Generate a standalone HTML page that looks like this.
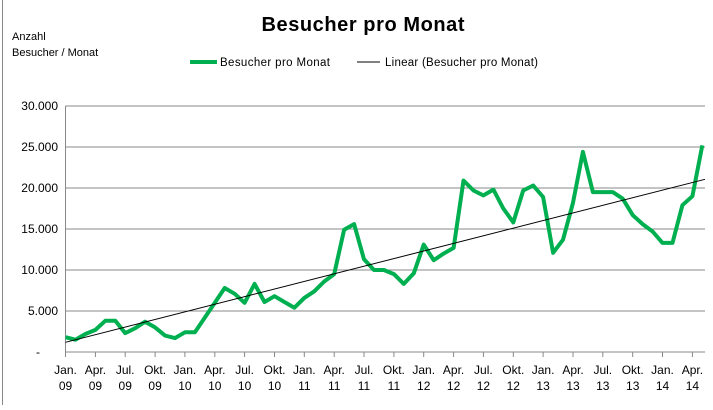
<!DOCTYPE html>
<html><head><meta charset="utf-8"><style>
body{margin:0;background:#fff}
svg text{font-family:"Liberation Sans",sans-serif;fill:#000}
</style></head><body>
<svg width="713" height="405" viewBox="0 0 713 405" xmlns="http://www.w3.org/2000/svg">
<line x1="2.5" y1="0" x2="2.5" y2="405" stroke="#888" stroke-width="1"/>
<text x="363" y="31" font-size="20" font-weight="bold" text-anchor="middle" textLength="203">Besucher pro Monat</text>
<text x="12" y="40" font-size="11">Anzahl</text>
<text x="12" y="56" font-size="11">Besucher / Monat</text>
<line x1="190" y1="62" x2="217" y2="62" stroke="#00b050" stroke-width="4"/>
<text x="220" y="66" font-size="11.5" textLength="110">Besucher pro Monat</text>
<line x1="357" y1="62" x2="380" y2="62" stroke="#000" stroke-width="1"/>
<text x="385" y="66" font-size="11.5" textLength="153">Linear (Besucher pro Monat)</text>
<g stroke="#888" stroke-width="1">
<line x1="65.5" y1="106" x2="705" y2="106"/>
<line x1="65.5" y1="147" x2="705" y2="147"/>
<line x1="65.5" y1="188" x2="705" y2="188"/>
<line x1="65.5" y1="229" x2="705" y2="229"/>
<line x1="65.5" y1="270" x2="705" y2="270"/>
<line x1="65.5" y1="311" x2="705" y2="311"/>
<line x1="65.5" y1="352" x2="705" y2="352"/>
<line x1="65.5" y1="106" x2="65.5" y2="357"/>
<line x1="95.4" y1="352" x2="95.4" y2="357"/><line x1="125.2" y1="352" x2="125.2" y2="357"/><line x1="155.1" y1="352" x2="155.1" y2="357"/><line x1="184.9" y1="352" x2="184.9" y2="357"/><line x1="214.8" y1="352" x2="214.8" y2="357"/><line x1="244.6" y1="352" x2="244.6" y2="357"/><line x1="274.5" y1="352" x2="274.5" y2="357"/><line x1="304.3" y1="352" x2="304.3" y2="357"/><line x1="334.2" y1="352" x2="334.2" y2="357"/><line x1="364" y1="352" x2="364" y2="357"/><line x1="393.9" y1="352" x2="393.9" y2="357"/><line x1="423.7" y1="352" x2="423.7" y2="357"/><line x1="453.6" y1="352" x2="453.6" y2="357"/><line x1="483.4" y1="352" x2="483.4" y2="357"/><line x1="513.3" y1="352" x2="513.3" y2="357"/><line x1="543.1" y1="352" x2="543.1" y2="357"/><line x1="573" y1="352" x2="573" y2="357"/><line x1="602.8" y1="352" x2="602.8" y2="357"/><line x1="632.7" y1="352" x2="632.7" y2="357"/><line x1="662.5" y1="352" x2="662.5" y2="357"/><line x1="692.4" y1="352" x2="692.4" y2="357"/>
</g>
<g font-size="12" text-anchor="end">
<text x="58" y="110">30.000</text>
<text x="58" y="151">25.000</text>
<text x="58" y="192">20.000</text>
<text x="58" y="233">15.000</text>
<text x="58" y="274">10.000</text>
<text x="58" y="315">5.000</text>
<text x="40" y="356">-</text>
</g>
<g font-size="12" text-anchor="middle">
<text x="65.5" y="374">Jan.</text><text x="65.5" y="390">09</text>
<text x="95.4" y="374">Apr.</text><text x="95.4" y="390">09</text>
<text x="125.2" y="374">Jul.</text><text x="125.2" y="390">09</text>
<text x="155.1" y="374">Okt.</text><text x="155.1" y="390">09</text>
<text x="184.9" y="374">Jan.</text><text x="184.9" y="390">10</text>
<text x="214.8" y="374">Apr.</text><text x="214.8" y="390">10</text>
<text x="244.6" y="374">Jul.</text><text x="244.6" y="390">10</text>
<text x="274.5" y="374">Okt.</text><text x="274.5" y="390">10</text>
<text x="304.3" y="374">Jan.</text><text x="304.3" y="390">11</text>
<text x="334.2" y="374">Apr.</text><text x="334.2" y="390">11</text>
<text x="364" y="374">Jul.</text><text x="364" y="390">11</text>
<text x="393.9" y="374">Okt.</text><text x="393.9" y="390">11</text>
<text x="423.7" y="374">Jan.</text><text x="423.7" y="390">12</text>
<text x="453.6" y="374">Apr.</text><text x="453.6" y="390">12</text>
<text x="483.4" y="374">Jul.</text><text x="483.4" y="390">12</text>
<text x="513.3" y="374">Okt.</text><text x="513.3" y="390">12</text>
<text x="543.1" y="374">Jan.</text><text x="543.1" y="390">13</text>
<text x="573" y="374">Apr.</text><text x="573" y="390">13</text>
<text x="602.8" y="374">Jul.</text><text x="602.8" y="390">13</text>
<text x="632.7" y="374">Okt.</text><text x="632.7" y="390">13</text>
<text x="662.5" y="374">Jan.</text><text x="662.5" y="390">14</text>
<text x="692.4" y="374">Apr.</text><text x="692.4" y="390">14</text>
</g>
<polyline fill="none" stroke="#00b050" stroke-width="4" stroke-linejoin="round" points="65.5,337.2 75.5,339.7 85.4,334 95.4,329.9 105.3,320.8 115.3,320.8 125.2,333.1 135.2,328.2 145.1,321.7 155.1,327.4 165,335.6 174.9,338.1 184.9,332.3 194.9,332.3 204.8,317.6 214.8,302.8 224.7,288 234.7,293.8 244.6,302.8 254.6,283.9 264.5,302 274.5,296.2 284.4,302 294.4,307.7 304.3,297.9 314.3,291.3 324.2,281.5 334.2,274.1 344.1,229.8 354.1,224.1 364,259.3 374,270 383.9,270 393.9,274.1 403.8,283.9 413.8,273.3 423.7,244.6 433.7,260.2 443.6,253.6 453.6,247.9 463.5,180.6 473.5,190.5 483.4,195.4 493.4,189.6 503.3,208.5 513.3,222.4 523.2,190.5 533.2,185.5 543.1,197 553.1,252.8 563,239.7 573,202.8 582.9,151.9 592.9,192.1 602.8,192.1 612.8,192.1 622.7,198.7 632.7,215.1 642.6,224.1 652.6,231.5 662.5,242.9 672.5,242.9 682.4,205.2 692.4,196.2 702.3,145.4"/>
<line x1="65.5" y1="342.3" x2="705" y2="179.3" stroke="#000" stroke-width="1"/>
</svg>
</body></html>
